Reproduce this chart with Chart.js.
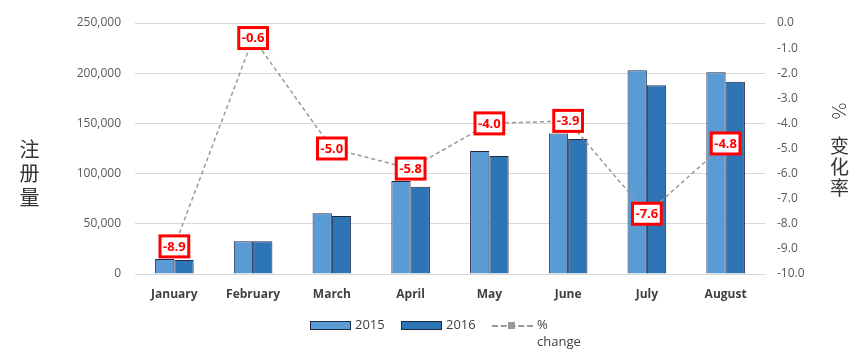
<!DOCTYPE html>
<html>
<head>
<meta charset="utf-8">
<script src="https://cdn.jsdelivr.net/npm/chart.js@4/dist/chart.umd.min.js"></script>
<style>
  html, body { margin:0; padding:0; background:#fff; }
  #wrap { position:relative; width:868px; height:363px; overflow:hidden; }
  #c { position:absolute; left:0; top:0; }
  .vt { position:absolute; writing-mode:vertical-rl; font-family:"Noto Sans CJK SC", sans-serif; color:#333; line-height:1; }
  #legend { position:absolute; top:316px; left:0; width:868px; font-family:"Open Sans", sans-serif; font-size:13px; color:#404040; }
  .box { position:absolute; top:5px; width:39px; height:7px; border:1px solid #1f2a44; }
  .lt { position:absolute; top:0; line-height:17px; white-space:nowrap; }
</style>
</head>
<body>
<div id="wrap">
  <canvas id="c" width="868" height="363"></canvas>
  <div class="vt" style="left:19px; top:139px; font-size:20px; letter-spacing:4px;">注册量</div>
  <div class="vt" style="left:829px; top:102px; font-size:19px; text-orientation:sideways; font-family:'DejaVu Sans', sans-serif; font-weight:300;">%</div>
  <div class="vt" style="left:830px; top:136px; font-size:19px; letter-spacing:2px;">变化率</div>
  <div id="legend">
    <div class="box" style="left:310px; background:#5b9bd5;"></div>
    <div class="lt" style="left:355px;">2015</div>
    <div class="box" style="left:401px; background:#2e75b6;"></div>
    <div class="lt" style="left:446px;">2016</div>
    <div style="position:absolute; left:492px; top:9px; width:41px; border-top:2px dashed #999;"></div>
    <div style="position:absolute; left:508px; top:6px; width:7px; height:7px; background:#999;"></div>
    <div class="lt" style="left:537px;">%<br>change</div>
  </div>
</div>
<script>
const categories = ['January','February','March','April','May','June','July','August'];
const values2015 = [15000, 32500, 60500, 92600, 122500, 140000, 203000, 201000];
const values2016 = [14000, 32500, 57800, 87000, 117500, 134500, 188000, 191500];
const pctChange = [-8.9, -0.6, -5.0, -5.8, -4.0, -3.9, -7.6, -4.8];
const leftTicks = [0, 50000, 100000, 150000, 200000, 250000];
const rightTicks = [0, -1, -2, -3, -4, -5, -6, -7, -8, -9, -10];

const labelPlugin = {
  id: 'pctLabels',
  afterDatasetsDraw(chart) {
    const meta = chart.getDatasetMeta(2);
    const ctx = chart.ctx;
    ctx.save();
    ctx.font = 'bold 13px "Open Sans", sans-serif';
    ctx.textAlign = 'center';
    ctx.textBaseline = 'middle';
    meta.data.forEach((pt, i) => {
      const txt = pctChange[i].toFixed(1);
      const w = ctx.measureText(txt).width + 6;
      const h = 21;
      ctx.fillStyle = '#fff';
      ctx.fillRect(pt.x - w/2, pt.y - h/2, w, h);
      ctx.lineWidth = 3;
      ctx.strokeStyle = '#ff0000';
      ctx.strokeRect(pt.x - w/2, pt.y - h/2, w, h);
      ctx.fillStyle = '#ff0000';
      ctx.fillText(txt, pt.x, pt.y + 0.5);
    });
    ctx.restore();
  }
};

new Chart(document.getElementById('c'), {
  data: {
    labels: categories,
    datasets: [
      { type:'bar', label:'2015', data: values2015, backgroundColor:'#5b9bd5', borderColor:'#1f2a44', borderWidth:1, yAxisID:'y', order:2, categoryPercentage:0.49, barPercentage:1 },
      { type:'bar', label:'2016', data: values2016, backgroundColor:'#2e75b6', borderColor:'#1f2a44', borderWidth:1, yAxisID:'y', order:2, categoryPercentage:0.49, barPercentage:1 },
      { type:'line', label:'% change', data: pctChange, borderColor:'#999', borderWidth:1.5, borderDash:[4,3], pointRadius:0, fill:false, yAxisID:'y1', order:1, tension:0 }
    ]
  },
  options: {
    responsive:false,
    animation:false,
    devicePixelRatio:1,
    layout:{ padding:{ top:23, left:0, right:0, bottom:0 } },
    plugins:{ legend:{ display:false }, tooltip:{ enabled:false } },
    scales:{
      x:{
        grid:{ display:false, drawTicks:false },
        border:{ display:true, color:'#d9d9d9' },
        ticks:{ color:'#404040', font:{ family:'"Open Sans", sans-serif', size:12, weight:'bold' }, padding:13 },
        afterFit(s){ s.height = 89; }
      },
      y:{
        position:'left', min:0, max:250000,
        afterBuildTicks(s){ s.ticks = leftTicks.map(v => ({ value:v })); },
        grid:{ color:'#d9d9d9', drawTicks:false },
        border:{ display:false },
        ticks:{ color:'#595959', font:{ family:'"Open Sans", sans-serif', size:12 }, padding:14,
          callback:v => v.toLocaleString('en-US') },
        afterFit(s){ s.width = 135; }
      },
      y1:{
        position:'right', min:-10, max:0,
        afterBuildTicks(s){ s.ticks = rightTicks.map(v => ({ value:v })); },
        grid:{ display:false, drawTicks:false },
        border:{ display:false },
        ticks:{ color:'#595959', font:{ family:'"Open Sans", sans-serif', size:12 }, padding:12,
          callback:v => Number(v).toFixed(1) },
        afterFit(s){ s.width = 103; }
      }
    }
  },
  plugins:[labelPlugin]
});
</script>
</body>
</html>
